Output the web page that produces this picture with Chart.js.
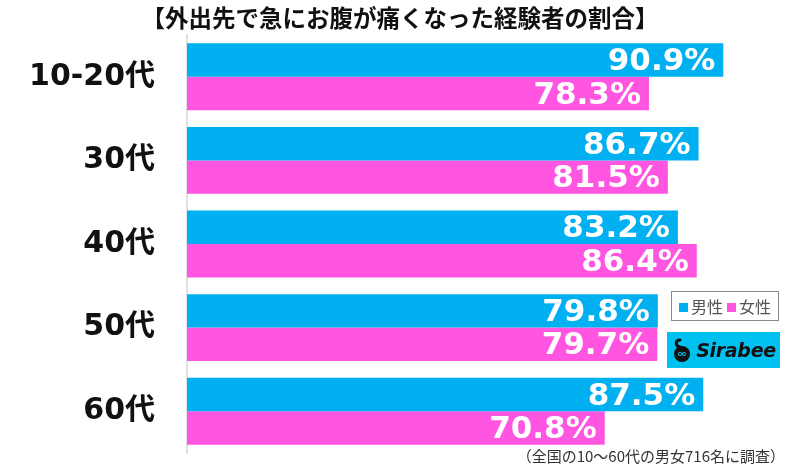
<!DOCTYPE html>
<html lang="ja">
<head>
<meta charset="utf-8">
<script src="https://cdn.jsdelivr.net/npm/chart.js@4/dist/chart.umd.min.js"></script>
<style>
  html, body { margin: 0; padding: 0; background: #fff; }
  #wrap { position: relative; width: 800px; height: 466px; overflow: hidden; }
  #chart { position: absolute; left: 0; top: 0; }
  .title {
    position: absolute; left: 0; top: 0px; width: 800px; text-align: center;
    font: bold 23.5px "Noto Sans CJK JP", sans-serif; color: #111;
  }
  .note {
    position: absolute; right: 15px; top: 445px;
    font: 15px "Noto Sans CJK JP", sans-serif; color: #333;
  }
  .legend {
    position: absolute; left: 671px; top: 291px; width: 106px; height: 28px;
    border: 1px solid #888; box-sizing: content-box;
    font: 16px "Noto Sans CJK JP", sans-serif; color: #555;
    display: flex; align-items: center; justify-content: center; gap: 4px;
  }
  .legend .sq { display: inline-block; width: 9px; height: 9px; margin-right: 3px; vertical-align: 1px; }
  .logo {
    position: absolute; left: 667px; top: 332px; width: 113px; height: 36px;
    background: #00c0f0; display: flex; align-items: center; justify-content: center;
  }
  .logo svg { margin-right: 3px; }
  .logo .txt { font: italic bold 19px "DejaVu Sans", sans-serif; color: #111; letter-spacing: -0.3px; }
</style>
</head>
<body>
<div id="wrap">
  <canvas id="chart" width="800" height="466"></canvas>
  <div class="title">【外出先で急にお腹が痛くなった経験者の割合】</div>
  <div class="legend">
    <span><span class="sq" style="background:#00b0f0"></span>男性</span>
    <span><span class="sq" style="background:#ff55e1"></span>女性</span>
  </div>
  <div class="logo">
    <svg width="22" height="26" viewBox="0 0 22 26">
      <path d="M9 3 C 4 3, 4 9, 9 10" fill="none" stroke="#111" stroke-width="3" stroke-linecap="round"/>
      <circle cx="11" cy="17" r="8" fill="#111"/>
      <circle cx="9" cy="17" r="1.6" fill="none" stroke="#00c0f0" stroke-width="1"/>
      <circle cx="13" cy="17" r="1.6" fill="none" stroke="#00c0f0" stroke-width="1"/>
    </svg>
    <span class="txt">Sirabee</span>
  </div>
  <div class="note">（全国の10〜60代の男女716名に調査）</div>
</div>
<script>
// 年代別データ
const ageGroups = ['10-20代', '30代', '40代', '50代', '60代'];
const maleValues = [90.9, 86.7, 83.2, 79.8, 87.5];
const femaleValues = [78.3, 81.5, 86.4, 79.7, 70.8];
const seriesNames = ['男性', '女性'];

const BLUE = '#00b0f0';
const PINK = '#ff55e1';

// バーの端に白い数値を描く
const valueLabels = {
    id: 'valueLabels',
    afterDatasetsDraw(chart) {
        const ctx = chart.ctx;
        ctx.save();
        ctx.font = 'bold 31px "DejaVu Sans", sans-serif';
        ctx.fillStyle = '#fff';
        ctx.textAlign = 'right';
        ctx.textBaseline = 'middle';
        chart.data.datasets.forEach((ds, di) => {
            chart.getDatasetMeta(di).data.forEach((bar, i) => {
                ctx.fillText(ds.data[i].toFixed(1) + '%', bar.x - 8, bar.y + 2);
            });
        });
        ctx.restore();
    }
};

new Chart(document.getElementById('chart'), {
    type: 'bar',
    data: {
        labels: ageGroups,
        datasets: [
            { label: seriesNames[0], data: maleValues, backgroundColor: BLUE },
            { label: seriesNames[1], data: femaleValues, backgroundColor: PINK }
        ]
    },
    options: {
        indexAxis: 'y',
        responsive: false,
        animation: false,
        categoryPercentage: 0.8,
        barPercentage: 1.0,
        layout: { padding: { top: 35, bottom: 13, right: 23, left: 0 } },
        plugins: {
            legend: { display: false },
            tooltip: { enabled: false }
        },
        scales: {
            x: { min: 0, max: 100, display: false },
            y: {
                grid: { display: true, drawOnChartArea: false, drawTicks: false },
                border: { display: true, color: '#e2e2e2', width: 2 },
                ticks: {
                    color: '#111',
                    padding: 32,
                    font: { family: '"DejaVu Sans", "Noto Sans CJK JP", sans-serif', weight: 'bold', size: 30 }
                },
                afterFit(scale) {
                    scale.width = 187;
                    // 目盛りの余白が縦方向に効かないようにする
                    scale.paddingTop = 0;
                    scale.paddingBottom = 0;
                }
            }
        }
    },
    plugins: [valueLabels]
});
</script>
</body>
</html>
